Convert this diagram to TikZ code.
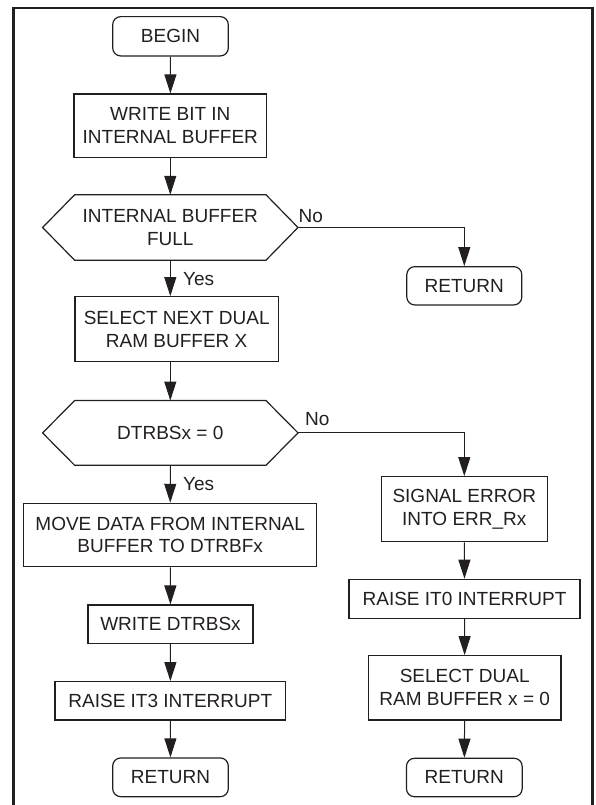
\documentclass[tikz,border=0pt]{standalone}
\usepackage{fontspec}
\setmainfont{Liberation Sans}
\usetikzlibrary{arrows.meta}
\definecolor{ink}{RGB}{35,31,32}

\begin{document}
\begin{tikzpicture}[x=1pt,y=1pt,yscale=-1,xscale=1,
  font=\fontsize{19}{22.7}\selectfont, text=ink,
  every node/.style={inner sep=0pt, align=center},
  stepbox/.style={draw=ink, line width=1.2pt},
  termbox/.style={draw=ink, line width=1.2pt, rounded corners=8pt},
  hexline/.style={draw=ink, line width=1.2pt},
  flow/.style={draw=ink, line width=1pt, -{Triangle[length=19pt,width=12pt]}},
  lbl/.style={anchor=base west}]

\useasboundingbox (0,0) rectangle (595,805);

% Frame
\draw [line width=2.7pt, ink] (13.3,805) -- (13.3,8) -- (592.7,8) -- (592.7,805);

% Left column
\node (begin) at (170.5,36.3) [termbox, minimum width=115.6, minimum height=39.3] {BEGIN};
\node (wbit) at (170.3,125.7) [stepbox, minimum width=192.7, minimum height=63.3] {WRITE BIT IN\\INTERNAL BUFFER};
\node (full) at (170.3,227.5) [minimum width=255, minimum height=65] {INTERNAL BUFFER\\FULL};
\draw [hexline] (full.west) -- ([xshift=32pt]full.north west) -- ([xshift=-32pt]full.north east) -- (full.east) -- ([xshift=-32pt]full.south east) -- ([xshift=32pt]full.south west) -- cycle;
\node (selnext) at (176.7,329.2) [stepbox, minimum width=203.3, minimum height=65] {SELECT NEXT DUAL\\RAM BUFFER X};
\node (dtrbs) at (170.3,432.9) [minimum width=255, minimum height=64.3] {DTRBSx = 0};
\draw [hexline] (dtrbs.west) -- ([xshift=32pt]dtrbs.north west) -- ([xshift=-32pt]dtrbs.north east) -- (dtrbs.east) -- ([xshift=-32pt]dtrbs.south east) -- ([xshift=32pt]dtrbs.south west) -- cycle;
\node (move) at (170.2,535) [stepbox, minimum width=293.3, minimum height=63.3] {MOVE DATA FROM INTERNAL\\BUFFER TO DTRBFx};
\node (wdtrbs) at (170.5,624.2) [stepbox, minimum width=165, minimum height=38.3] {WRITE DTRBSx};
\node (itthree) at (170.3,700.8) [stepbox, minimum width=230.7, minimum height=38.3] {RAISE IT3 INTERRUPT};
\node (retleft) at (170.5,777.3) [termbox, minimum width=115.6, minimum height=38.7] {RETURN};

% Right column
\node (retfull) at (464.3,285.8) [termbox, minimum width=115, minimum height=38.3] {RETURN};
\node (sigerr) at (464.3,509.2) [stepbox, minimum width=166.3, minimum height=65] {SIGNAL ERROR\\INTO ERR\_Rx};
\node (itzero) at (464.5,598.8) [stepbox, minimum width=231, minimum height=39] {RAISE IT0 INTERRUPT};
\node (seldual) at (464.7,687.8) [stepbox, minimum width=192.7, minimum height=64.3] {SELECT DUAL\\RAM BUFFER x = 0};
\node (retright) at (464.3,777.5) [termbox, minimum width=115.7, minimum height=38.4] {RETURN};

% Labels
\node (nofull) at (298.5,222) [lbl] {No};
\node (yesfull) at (183,285) [lbl] {Yes};
\node (nodtrbs) at (305,425) [lbl] {No};
\node (yesdtrbs) at (183,490) [lbl] {Yes};

% Connectors
\draw [flow] (begin) -- (wbit);
\draw [flow] (wbit) -- (full);
\draw [flow] (full.south) -- (full.south |- selnext.north);
\draw [flow] (selnext.south -| dtrbs.north) -- (dtrbs.north);
\draw [flow] (dtrbs) -- (move);
\draw [flow] (move) -- (wdtrbs);
\draw [flow] (wdtrbs) -- (itthree);
\draw [flow] (itthree) -- (retleft);
\draw [flow] (full.east) -| (retfull.north);
\draw [flow] (dtrbs.east) -| (sigerr.north);
\draw [flow] (sigerr) -- (itzero);
\draw [flow] (itzero) -- (seldual);
\draw [flow] (seldual) -- (retright);

\end{tikzpicture}
\end{document}
